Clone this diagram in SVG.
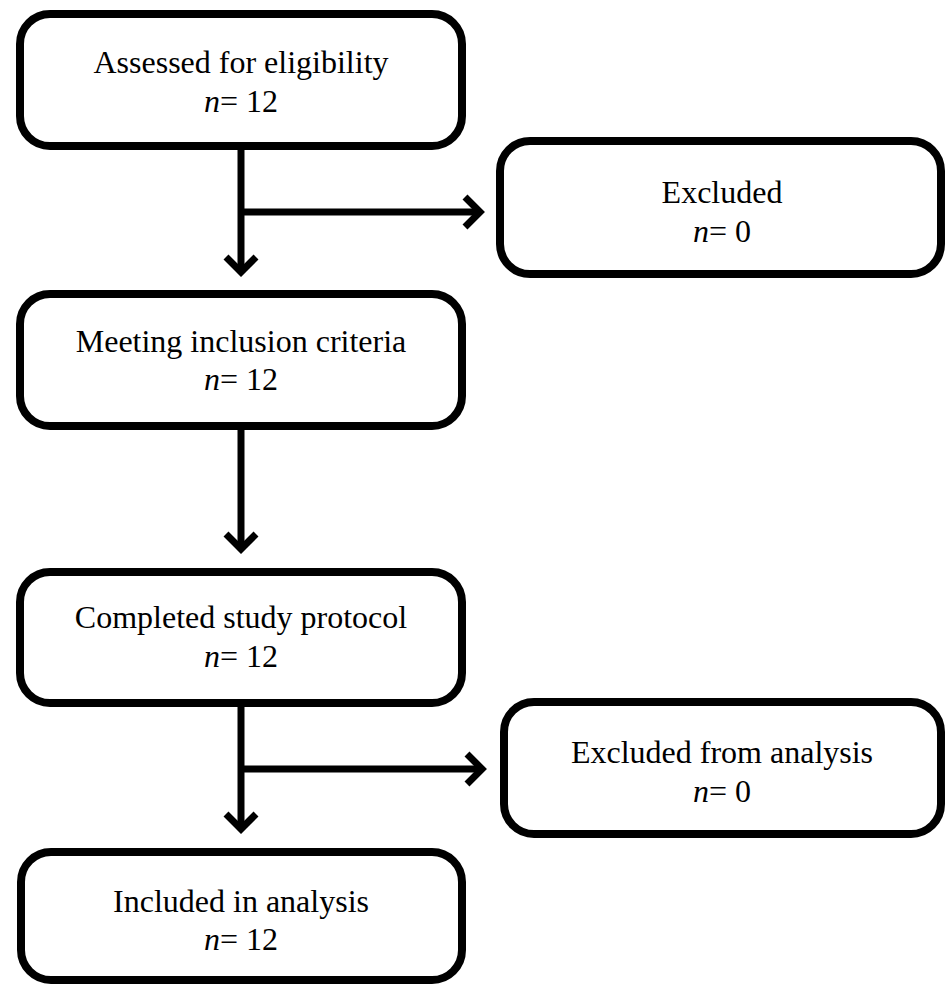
<svg xmlns="http://www.w3.org/2000/svg" width="946" height="984" viewBox="0 0 946 984">
<style>
.box{fill:#fff;stroke:#000;stroke-width:8}
.t{font-family:"Liberation Serif","Times New Roman",serif;font-size:32px;fill:#000;text-anchor:middle}
.i{font-style:italic}
.c{fill:none;stroke:#000;stroke-width:7}
.h{fill:none;stroke:#000;stroke-width:7;stroke-linejoin:miter;stroke-linecap:butt}
</style>
<rect width="946" height="984" fill="#fff"/>
<g id="connectors">
<line class="c" x1="241" y1="150" x2="241" y2="272"/>
<polyline class="h" points="226,257 241,272 256,257"/>
<line class="c" x1="241" y1="212" x2="480" y2="212"/>
<polyline class="h" points="465,197 480,212 465,227"/>
<line class="c" x1="241" y1="430" x2="241" y2="549"/>
<polyline class="h" points="226,534 241,549 256,534"/>
<line class="c" x1="241" y1="707" x2="241" y2="829"/>
<polyline class="h" points="226,814 241,829 256,814"/>
<line class="c" x1="241" y1="769" x2="482" y2="769"/>
<polyline class="h" points="467,754 482,769 467,784"/>
</g>
<g id="n1">
<rect class="box" x="20" y="14" width="442" height="132" rx="30"/>
<text class="t" x="241" y="73">Assessed for eligibility</text>
<text class="t" x="241" y="112"><tspan class="i">n</tspan>= 12</text>
</g>
<g id="n2">
<rect class="box" x="500" y="141" width="441" height="133" rx="30"/>
<text class="t" x="722" y="203">Excluded</text>
<text class="t" x="722" y="242"><tspan class="i">n</tspan>= 0</text>
</g>
<g id="n3">
<rect class="box" x="20" y="294" width="442" height="132" rx="30"/>
<text class="t" x="241" y="352">Meeting inclusion criteria</text>
<text class="t" x="241" y="390"><tspan class="i">n</tspan>= 12</text>
</g>
<g id="n4">
<rect class="box" x="20" y="572" width="442" height="131" rx="30"/>
<text class="t" x="241" y="628">Completed study protocol</text>
<text class="t" x="241" y="667"><tspan class="i">n</tspan>= 12</text>
</g>
<g id="n5">
<rect class="box" x="504" y="702" width="437" height="132" rx="30"/>
<text class="t" x="722" y="763">Excluded from analysis</text>
<text class="t" x="722" y="802"><tspan class="i">n</tspan>= 0</text>
</g>
<g id="n6">
<rect class="box" x="21" y="852" width="441" height="128" rx="30"/>
<text class="t" x="241" y="912">Included in analysis</text>
<text class="t" x="241" y="950"><tspan class="i">n</tspan>= 12</text>
</g>
</svg>
